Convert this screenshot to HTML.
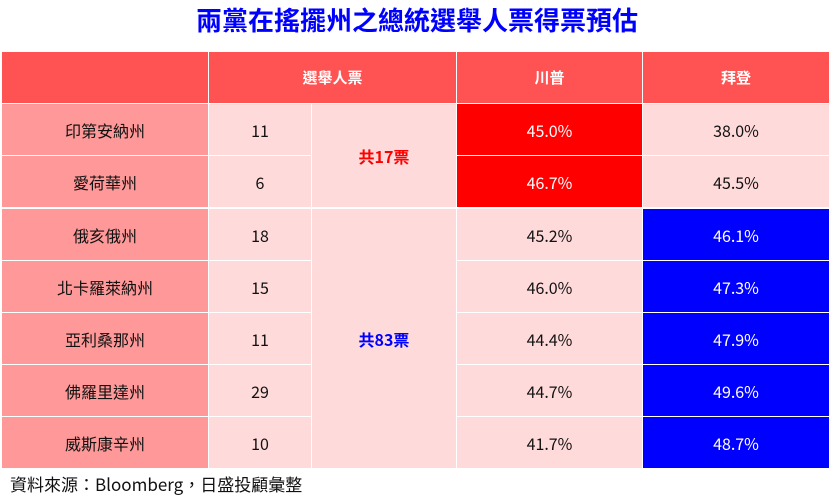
<!DOCTYPE html>
<html><head><meta charset="utf-8"><style>
body{margin:0;width:834px;height:496px;background:#fff;position:relative;overflow:hidden;font-family:"Noto Sans CJK TC","Liberation Sans",sans-serif;}
.c{position:absolute;display:flex;align-items:center;justify-content:center;font-size:16px;line-height:20px;color:#111;box-sizing:border-box;}
.h{background:#FF5252;color:#fff;font-weight:bold;font-size:15px}
.s{background:#FF9999}
.l{background:#FFDADA}
.r{background:#FF0000;color:#fff}
.b{background:#0000FF;color:#fff}
</style></head><body>
<div style="position:absolute;left:0;width:834px;top:4px;line-height:32px;text-align:center;font-size:26px;font-weight:bold;color:#0000FF;">兩黨在搖擺州之總統選舉人票得票預估</div>
<div class="c h" style="left:2px;top:52px;width:206px;height:51px"></div>
<div class="c h" style="left:209px;top:52px;width:247px;height:51px">選舉人票</div>
<div class="c h" style="left:457px;top:52px;width:185px;height:51px">川普</div>
<div class="c h" style="left:643px;top:52px;width:186px;height:51px">拜登</div>

<div class="c l" style="left:312px;top:104px;width:144px;height:103px;color:#FF0000;font-weight:bold">共17票</div>
<div class="c l" style="left:312px;top:209px;width:144px;height:259px;color:#0000FF;font-weight:bold">共83票</div>

<div class="c s" style="left:2px;top:104px;width:206px;height:51px">印第安納州</div>
<div class="c l" style="left:209px;top:104px;width:102px;height:51px">11</div>
<div class="c r" style="left:457px;top:104px;width:185px;height:51px">45.0%</div>
<div class="c l" style="left:643px;top:104px;width:186px;height:51px">38.0%</div>

<div class="c s" style="left:2px;top:156px;width:206px;height:51px">愛荷華州</div>
<div class="c l" style="left:209px;top:156px;width:102px;height:51px">6</div>
<div class="c r" style="left:457px;top:156px;width:185px;height:51px">46.7%</div>
<div class="c l" style="left:643px;top:156px;width:186px;height:51px">45.5%</div>

<div class="c s" style="left:2px;top:209px;width:206px;height:51px">俄亥俄州</div>
<div class="c l" style="left:209px;top:209px;width:102px;height:51px">18</div>
<div class="c l" style="left:457px;top:209px;width:185px;height:51px">45.2%</div>
<div class="c b" style="left:643px;top:209px;width:186px;height:51px">46.1%</div>

<div class="c s" style="left:2px;top:261px;width:206px;height:51px">北卡羅萊納州</div>
<div class="c l" style="left:209px;top:261px;width:102px;height:51px">15</div>
<div class="c l" style="left:457px;top:261px;width:185px;height:51px">46.0%</div>
<div class="c b" style="left:643px;top:261px;width:186px;height:51px">47.3%</div>

<div class="c s" style="left:2px;top:313px;width:206px;height:51px">亞利桑那州</div>
<div class="c l" style="left:209px;top:313px;width:102px;height:51px">11</div>
<div class="c l" style="left:457px;top:313px;width:185px;height:51px">44.4%</div>
<div class="c b" style="left:643px;top:313px;width:186px;height:51px">47.9%</div>

<div class="c s" style="left:2px;top:365px;width:206px;height:51px">佛羅里達州</div>
<div class="c l" style="left:209px;top:365px;width:102px;height:51px">29</div>
<div class="c l" style="left:457px;top:365px;width:185px;height:51px">44.7%</div>
<div class="c b" style="left:643px;top:365px;width:186px;height:51px">49.6%</div>

<div class="c s" style="left:2px;top:417px;width:206px;height:51px">威斯康辛州</div>
<div class="c l" style="left:209px;top:417px;width:102px;height:51px">10</div>
<div class="c l" style="left:457px;top:417px;width:185px;height:51px">41.7%</div>
<div class="c b" style="left:643px;top:417px;width:186px;height:51px">48.7%</div>

<div style="position:absolute;left:10px;top:472px;line-height:24px;font-size:17px;color:#111;">資料來源：Bloomberg，日盛投顧彙整</div>
</body></html>
